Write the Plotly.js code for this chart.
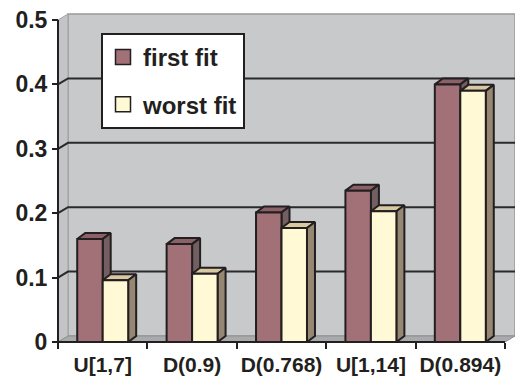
<!DOCTYPE html>
<html>
<head>
<meta charset="utf-8">
<script src="https://cdn.plot.ly/plotly-3.0.1.min.js"></script>
<style>
  html, body { margin: 0; padding: 0; background: #ffffff; }
  #chart { width: 515px; height: 381px; }
</style>
</head>
<body>
<div id="chart"></div>
<script>
// ---- data ----
const categories = ['U[1,7]', 'D(0.9)', 'D(0.768)', 'U[1,14]', 'D(0.894)'];
const firstFit = [0.16, 0.152, 0.201, 0.235, 0.4];
const worstFit = [0.096, 0.106, 0.177, 0.203, 0.39];
const seriesNames = ['first fit', 'worst fit'];
const yTickVals = [0, 0.1, 0.2, 0.3, 0.4, 0.5];
const yTickText = ['0', '0.1', '0.2', '0.3', '0.4', '0.5'];

// ---- geometry of the pseudo-3D box (pixel sizes turned into axis units) ----
const W = 515, H = 381;
const M = { l: 56, r: 0, t: 12, b: 37 };
const pxX = 89.4, pxY = 644;            // pixels per category / per unit of value
const xMin = -0.5 - 2 / pxX, xMax = xMin + (W - M.l - M.r) / pxX;
const yMin = -2 / pxY, yMax = yMin + (H - M.t - M.b) / pxY;
const wallDx = 10 / pxX, wallDy = 6 / pxY;   // depth of walls
const barDx = 8 / pxX, barDy = 6 / pxY;      // depth of each bar
const barW = 0.285;
const yTop = yTickVals[yTickVals.length - 1];
const xIdx = categories.map((_, i) => i);
const xLeft = -0.5, xRight = categories.length - 0.5;
const boundaries = [xLeft].concat(xIdx.map(i => i + 0.5));

const INK = '#231F20';
const FONT = 'Liberation Sans, Arial, sans-serif';

// join several polygons into one trace, separated by gaps
function polys(list) {
  const x = [], y = [];
  list.forEach((p, k) => {
    if (k) { x.push(null); y.push(null); }
    p.forEach(pt => { x.push(pt[0]); y.push(pt[1]); });
    x.push(p[0][0]); y.push(p[0][1]);
  });
  return { x, y };
}
function area(list, fill, lineColor, lw) {
  const p = polys(list);
  return {
    type: 'scatter', mode: 'lines', x: p.x, y: p.y,
    fill: 'toself', fillcolor: fill,
    line: { color: lineColor, width: lw },
    hoverinfo: 'skip', showlegend: false
  };
}
function lines(segs, color, lw) {
  const x = [], y = [];
  segs.forEach((s, k) => {
    if (k) { x.push(null); y.push(null); }
    s.forEach(pt => { x.push(pt[0]); y.push(pt[1]); });
  });
  return { type: 'scatter', mode: 'lines', x, y, line: { color, width: lw },
           hoverinfo: 'skip', showlegend: false };
}

const traces = [];

// back wall, left wall, floor
traces.push(area([[[xLeft + wallDx, wallDy], [xRight + wallDx, wallDy],
                   [xRight + wallDx, yTop + wallDy], [xLeft + wallDx, yTop + wallDy]]],
                 '#C8C9CB', '#98999B', 1.5));
traces.push(area([[[xLeft, 0], [xLeft + wallDx, wallDy],
                   [xLeft + wallDx, yTop + wallDy], [xLeft, yTop]]],
                 '#C3C4C6', '#A2A3A5', 1));
traces.push(area([[[xLeft, 0], [xRight, 0], [xRight + wallDx, wallDy], [xLeft + wallDx, wallDy]]],
                 '#A9AAAC', '#8E8F91', 1));

// gridlines: across the side wall and along the back wall
const grid = yTickVals.filter(v => v > 0 && v < yTop).map(v =>
  [[xLeft, v], [xLeft + wallDx, v + wallDy], [xRight + wallDx, v + wallDy]]);
traces.push(lines(grid, '#2A2A2A', 2));

// bars: top, side and front faces
function barFaces(vals, offset, cFront, cTop, cSide) {
  const tops = [], sides = [], fronts = [];
  vals.forEach((v, i) => {
    const x0 = i + offset, x1 = x0 + barW;
    tops.push([[x0, v], [x1, v], [x1 + barDx, v + barDy], [x0 + barDx, v + barDy]]);
    sides.push([[x1, 0], [x1 + barDx, barDy], [x1 + barDx, v + barDy], [x1, v]]);
    fronts.push([[x0, 0], [x1, 0], [x1, v], [x0, v]]);
  });
  traces.push(area(tops, cTop, INK, 2));
  traces.push(area(sides, cSide, INK, 2));
  traces.push(area(fronts, cFront, INK, 2));
}
barFaces(firstFit, -barW, '#A27077', '#8A6167', '#735E62');
barFaces(worstFit, 0, '#FFFAD5', '#D8C9A3', '#968773');

// front axis lines
traces.push(lines([[[xLeft, yTop], [xLeft, 0], [xRight, 0]]], INK, 2));

// legend entries
const legendColors = ['#A27077', '#FFFAD5'];
seriesNames.forEach((name, k) => {
  traces.push({
    type: 'scatter', mode: 'markers', x: [null], y: [null], name,
    legendgroup: 'g' + k,
    marker: { symbol: 'square', size: 15, color: legendColors[k], line: { color: INK, width: 1.5 } },
    hoverinfo: 'skip'
  });
});

const layout = {
  width: W, height: H,
  margin: M,
  paper_bgcolor: '#ffffff', plot_bgcolor: 'rgba(0,0,0,0)',
  font: { family: FONT, color: INK },
  showlegend: true,
  legend: {
    x: (101 - M.l) / (W - M.l - M.r), y: (H - M.b - 33) / (H - M.t - M.b),
    xanchor: 'left', yanchor: 'top',
    bgcolor: '#ffffff', bordercolor: INK, borderwidth: 2,
    font: { family: FONT, size: 24, weight: 'bold', color: INK },
    tracegroupgap: 13, itemwidth: 30
  },
  xaxis: {
    range: [xMin, xMax], tickmode: 'array', tickvals: xIdx, ticktext: categories,
    ticks: '', showgrid: false, zeroline: false, showline: false,
    anchor: 'free', position: 2 / (H - M.t - M.b),
    tickfont: { family: FONT, size: 21, weight: 'bold', color: INK },
    ticklabelstandoff: 8,
    minor: { tickmode: 'array', tickvals: boundaries, ticks: 'outside', ticklen: 6,
             tickwidth: 2, tickcolor: INK, showgrid: false },
    fixedrange: true
  },
  yaxis: {
    range: [yMin, yMax], tickmode: 'array', tickvals: yTickVals, ticktext: yTickText,
    ticks: 'outside', ticklen: 6, tickwidth: 2, tickcolor: INK,
    showgrid: false, zeroline: false, showline: false,
    anchor: 'free', position: 2 / (W - M.l - M.r),
    tickfont: { family: FONT, size: 23, weight: 'bold', color: INK },
    fixedrange: true
  }
};

Plotly.newPlot('chart', traces, layout, { staticPlot: true, displayModeBar: false });
</script>
</body>
</html>
